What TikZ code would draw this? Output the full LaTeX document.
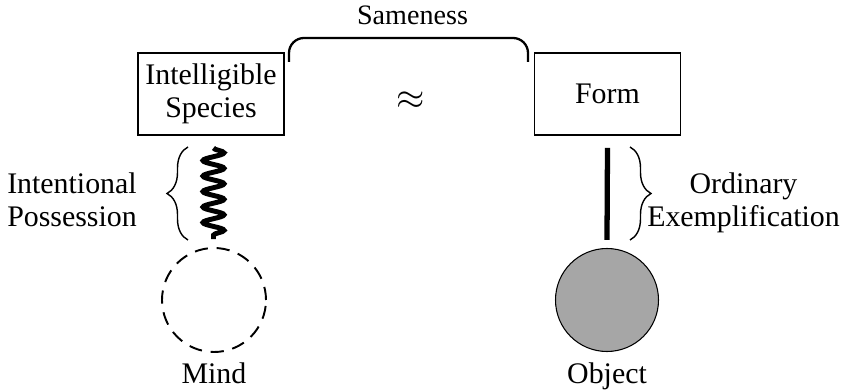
\documentclass[tikz,border=0pt]{standalone}
\usepackage{fontspec}
\setmainfont{Liberation Serif}
\usepackage{tikz}
\usetikzlibrary{calc,decorations.pathmorphing,decorations.pathreplacing,positioning}

\begin{document}
\begin{tikzpicture}[thick, font=\fontsize{17}{18.5}\selectfont]
    % Define styles for blocks, circles, links and labels
    \tikzstyle{block} = [draw, line width=1.1pt, rectangle, minimum height=1.64cm, minimum width=2.92cm, align=center, inner sep=0pt]
    \tikzstyle{mind} = [draw, circle, dashed, dash pattern=on 7.5pt off 5pt, line width=1.1pt, minimum size=2.08cm, inner sep=0pt]
    \tikzstyle{object} = [draw, circle, fill=black!35, line width=0.6pt, minimum size=2.06cm, inner sep=0pt]
    \tikzstyle{spring} = [line width=2.8pt, decorate, decoration={snake, amplitude=0.21cm, segment length=0.31cm}]
    \tikzstyle{link} = [line width=3pt]
    \tikzstyle{curly} = [line width=0.8pt, decorate, decoration={brace, amplitude=0.42cm}]
    \tikzstyle{label} = [align=center, inner sep=0pt]

    \useasboundingbox (0,0) rectangle (16.82,-7.8);

    % Nodes placement
    \node [block] (species) at (4.22,-1.88) {Intelligible\\Species};
    \node [block, right of=species, node distance=7.93cm] (form) {Form};
    \node [mind] (mind) at (4.28,-6.0) {};
    \node [object, right of=mind, node distance=7.86cm] (object) {};
    \node [label, anchor=base] (mindlabel) at (4.28,-7.67) {Mind};
    \node [label, anchor=base] (objectlabel) at (12.14,-7.67) {Object};
    \node [label, font=\fontsize{22}{22}\selectfont] (approx) at (8.21,-2.02) {$\approx$};
    \node [label, anchor=base, font=\fontsize{16}{18}\selectfont] (same) at (8.25,-0.5) {Sameness};
    \node [label] (intent) at (1.44,-4.0) {Intentional\\Possession};
    \node [label] (exempl) at (14.87,-4.06) {Ordinary\\Exemplification};

    % Draw links
    \draw [spring] ($(species.south)+(0.05,-0.24)$) -- ($(mind.north)+(-0.01,0.16)$);
    \draw [link] ($(form.south)+(0,-0.24)$) -- ($(object.north)+(0,0.16)$);

    % Braces
    \draw [line width=1.3pt, rounded corners=0.3cm] (5.78,-1.24) -- (5.78,-0.76) -- (10.56,-0.76) -- (10.56,-1.24);
    \draw [curly] (3.76,-4.8) -- (3.76,-2.94);
    \draw [curly] (12.6,-2.94) -- (12.6,-4.8);
\end{tikzpicture}
\end{document}
